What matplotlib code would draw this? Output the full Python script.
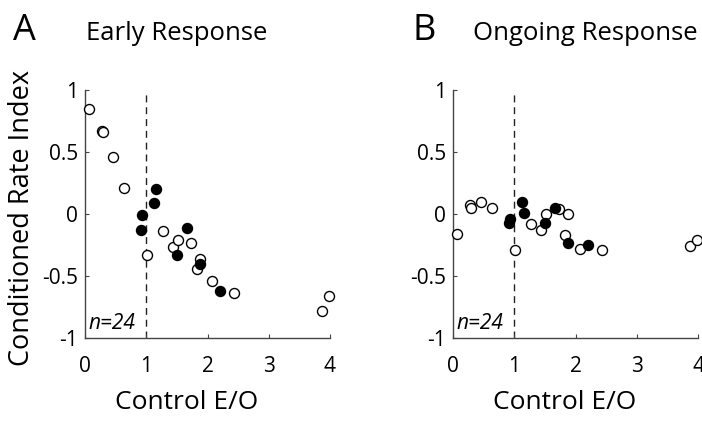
import matplotlib
matplotlib.use("Agg")
import matplotlib.pyplot as plt

plt.rcParams['font.family'] = ['Open Sans', 'DejaVu Sans']

# Control E/O values (same cells in both panels)
open_x = [0.07, 0.27, 0.29, 0.46, 0.64, 1.02, 1.28, 1.43, 1.52, 1.73, 1.88, 1.83, 2.08, 2.44, 3.87, 3.99]
filled_x = [0.93, 0.92, 1.12, 1.16, 1.67, 1.51, 1.88, 2.21]

# conditioned rate index, early response
early_open = [0.85, 0.67, 0.66, 0.46, 0.21, -0.33, -0.14, -0.27, -0.21, -0.23, -0.36, -0.44, -0.54, -0.64, -0.78, -0.66]
early_filled = [-0.01, -0.13, 0.09, 0.20, -0.11, -0.33, -0.40, -0.62]

# conditioned rate index, ongoing response
ongoing_open = [-0.16, 0.07, 0.05, 0.10, 0.05, -0.29, -0.08, -0.13, 0.0, 0.04, 0.0, -0.17, -0.28, -0.29, -0.26, -0.21]
ongoing_filled = [-0.04, -0.07, 0.10, 0.01, 0.05, -0.07, -0.23, -0.25]

xticks = [0, 1, 2, 3, 4]
yticks = [-1, -0.5, 0, 0.5, 1]
yticklabels = ['-1', '-0.5', '0', '0.5', '1']

W, H = 702, 423
fig = plt.figure(figsize=(W / 100, H / 100), dpi=100)

panels = [
    ('A', 'Early Response', early_open, early_filled, 85, 13, 86, 0.416),
    ('B', 'Ongoing Response', ongoing_open, ongoing_filled, 453, 413, 473, 0.455),
]

for letter, title, yo, yf, left_px, letter_px, title_px, xlab_pos in panels:
    ax = fig.add_axes([left_px / W, (H - 338) / H, 245 / W, 248 / H])
    ax.set_xlim(0, 4)
    ax.set_ylim(-1, 1)
    ax.axvline(1, color='#222222', lw=1, ls=(0, (5, 3.5)), zorder=1)
    ax.plot(open_x, yo, 'o', ms=7.2, mfc='white', mec='black', mew=1.0, zorder=3, clip_on=False)
    ax.plot(filled_x, yf, 'o', ms=7.2, mfc='black', mec='black', mew=1.0, zorder=4, clip_on=False)
    for s in ['top', 'right']:
        ax.spines[s].set_visible(False)
    for s in ['left', 'bottom']:
        ax.spines[s].set_color('#444444')
        ax.spines[s].set_linewidth(1.0)
    ax.set_xticks(xticks)
    ax.set_yticks(yticks)
    ax.set_yticklabels(yticklabels)
    ax.tick_params(direction='in', length=3, width=0.8, color='#444444', labelsize=15)
    ax.tick_params(axis='x', pad=13)
    ax.tick_params(axis='y', pad=5)
    ax.text(0.05, -0.97, 'n=24', style='italic', fontsize=15, ha='left', va='bottom')
    ax.set_xlabel('Control E/O', fontsize=19)
    ax.xaxis.set_label_coords(xlab_pos, -0.21)
    fig.text(letter_px / W, (H - 40) / H, letter, fontsize=26, ha='left', va='baseline')
    fig.text(title_px / W, (H - 40) / H, title, fontsize=18.5, ha='left', va='baseline')
    if letter == 'A':
        ax.set_ylabel('Conditioned Rate Index', fontsize=19.5)
        ax.yaxis.set_label_coords(-0.2, 0.485)

fig.savefig('out.png', dpi=100)
